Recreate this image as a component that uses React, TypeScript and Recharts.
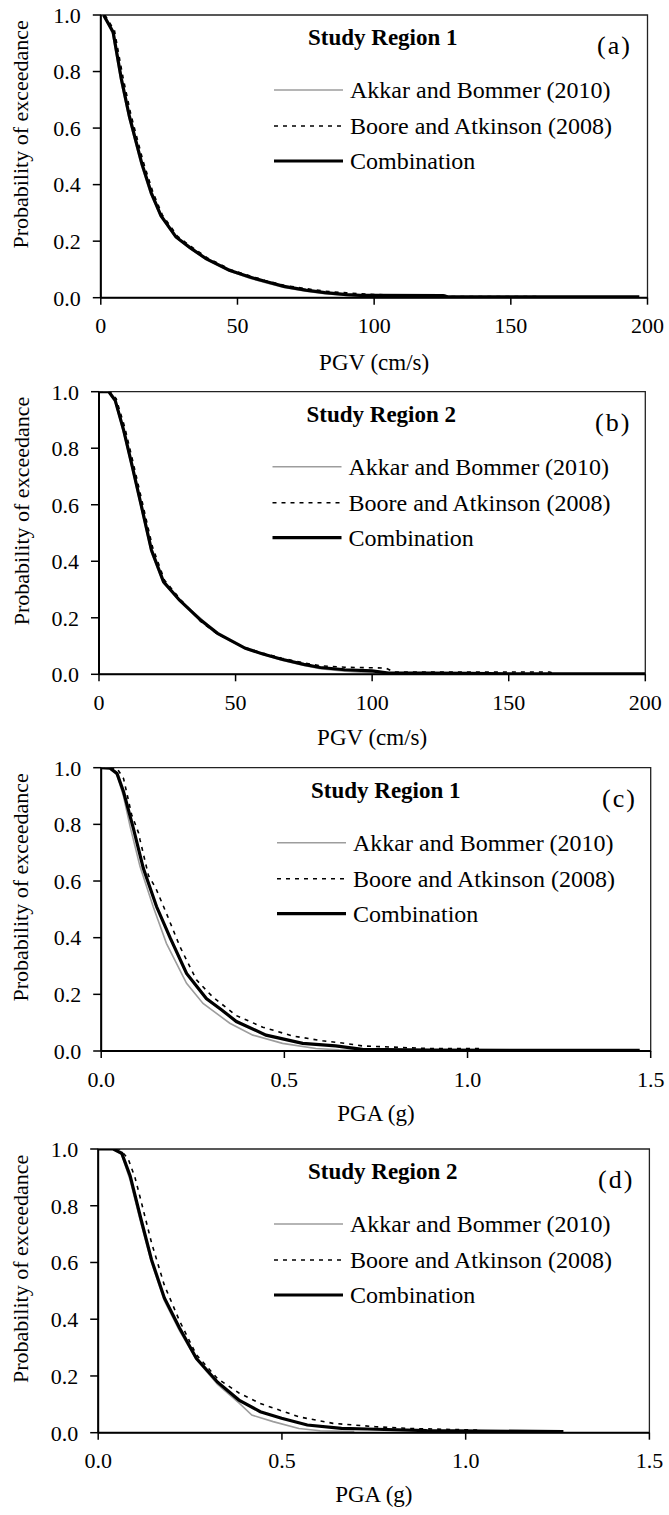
import React from "react";
import { LineChart, Line, XAxis, YAxis, ReferenceArea, Legend } from "recharts";

// (a) PGV, study region 1
const pgvR1AkkarX = [1, 4.3, 7.3, 10.3, 14.8, 18.3, 22, 27.5, 32.5, 38.5, 47, 54.5, 60, 67, 75, 82, 90, 100];
const pgvR1AkkarP = [1.0, 0.935, 0.77, 0.635, 0.47, 0.365, 0.286, 0.212, 0.175, 0.135, 0.094, 0.069, 0.054, 0.036, 0.023, 0.014, 0.008, 0.004];
const pgvR1BooreX = [1.5, 5, 8, 11, 15.5, 19, 22.5, 28, 33, 39, 47.5, 55, 60, 67, 75, 82, 90, 100, 110, 125, 128, 150, 175, 197];
const pgvR1BooreP = [1.0, 0.945, 0.785, 0.648, 0.482, 0.375, 0.293, 0.218, 0.181, 0.141, 0.099, 0.076, 0.061, 0.044, 0.032, 0.023, 0.017, 0.011, 0.01, 0.01, 0.004, 0.004, 0.003, 0.003];
const pgvR1CombX = [1, 4.5, 7.5, 10.5, 15, 18.5, 22, 27.5, 32.5, 38.5, 47, 54.5, 60, 67, 75, 82, 90, 95, 100, 125, 127, 150, 197];
const pgvR1CombP = [1.0, 0.94, 0.775, 0.64, 0.475, 0.37, 0.29, 0.215, 0.178, 0.138, 0.097, 0.073, 0.058, 0.04, 0.027, 0.018, 0.011, 0.008, 0.008, 0.007, 0.003, 0.003, 0.003];

// (b) PGV, study region 2
const pgvR2AkkarX = [0, 3.6, 5.9, 9, 12.2, 15.3, 19.2, 23.6, 29.4, 37.2, 43.4, 53.6, 60, 66.9, 75, 81, 90, 100, 110, 200];
const pgvR2AkkarP = [1.0, 1.0, 0.965, 0.855, 0.725, 0.595, 0.43, 0.322, 0.262, 0.198, 0.143, 0.09, 0.07, 0.05, 0.031, 0.02, 0.011, 0.005, 0.002, 0.001];
const pgvR2BooreX = [0, 4, 6.3, 9.4, 12.6, 15.7, 19.6, 24, 29.8, 37.2, 43.4, 53.6, 60, 66.9, 75, 81, 90, 105, 108, 165, 167, 200];
const pgvR2BooreP = [1.0, 1.0, 0.975, 0.875, 0.745, 0.615, 0.45, 0.333, 0.265, 0.187, 0.142, 0.094, 0.075, 0.057, 0.04, 0.03, 0.025, 0.022, 0.008, 0.008, 0.002, 0.002];
const pgvR2CombX = [0, 3.6, 5.9, 9, 12.2, 15.3, 19.2, 23.6, 29.4, 37.2, 43.4, 53.6, 60, 66.9, 75, 81, 90, 100, 106, 120, 135, 150, 200];
const pgvR2CombP = [1.0, 1.0, 0.97, 0.865, 0.735, 0.605, 0.44, 0.328, 0.263, 0.192, 0.145, 0.092, 0.072, 0.053, 0.035, 0.024, 0.016, 0.012, 0.004, 0.004, 0.003, 0.002, 0.002];

// (c) PGA, study region 1
const pgaR1AkkarX = [0, 0.024, 0.043, 0.061, 0.079, 0.106, 0.142, 0.178, 0.233, 0.278, 0.351, 0.414, 0.495, 0.586, 0.65, 0.75];
const pgaR1AkkarP = [1.0, 0.998, 0.975, 0.898, 0.792, 0.651, 0.509, 0.38, 0.239, 0.168, 0.098, 0.056, 0.027, 0.009, 0.004, 0.002];
const pgaR1BooreX = [0, 0.043, 0.061, 0.083, 0.102, 0.106, 0.129, 0.149, 0.178, 0.215, 0.26, 0.305, 0.369, 0.441, 0.523, 0.604, 0.666, 0.713, 0.887, 1.04];
const pgaR1BooreP = [1.0, 0.998, 0.962, 0.835, 0.77, 0.745, 0.62, 0.575, 0.486, 0.368, 0.251, 0.19, 0.125, 0.084, 0.053, 0.036, 0.027, 0.018, 0.009, 0.009];
const pgaR1CombX = [0, 0.024, 0.043, 0.061, 0.088, 0.115, 0.151, 0.188, 0.233, 0.287, 0.329, 0.369, 0.45, 0.55, 0.64, 0.713, 0.9, 1.2, 1.47];
const pgaR1CombP = [1.0, 0.998, 0.98, 0.915, 0.785, 0.645, 0.51, 0.4, 0.274, 0.185, 0.145, 0.104, 0.056, 0.027, 0.018, 0.006, 0.003, 0.002, 0.002];

// (d) PGA, study region 2
const pgaR2AkkarX = [0, 0.041, 0.064, 0.087, 0.116, 0.145, 0.18, 0.221, 0.267, 0.325, 0.383, 0.418, 0.476, 0.546, 0.604, 0.697];
const pgaR2AkkarP = [1.0, 1.0, 0.98, 0.89, 0.74, 0.6, 0.465, 0.36, 0.258, 0.17, 0.105, 0.062, 0.039, 0.015, 0.007, 0.004];
const pgaR2BooreX = [0, 0.058, 0.081, 0.1, 0.116, 0.145, 0.18, 0.221, 0.267, 0.325, 0.383, 0.441, 0.546, 0.639, 0.755, 0.848, 1.034];
const pgaR2BooreP = [1.0, 1.0, 0.967, 0.9, 0.82, 0.67, 0.52, 0.395, 0.275, 0.19, 0.14, 0.103, 0.056, 0.033, 0.021, 0.015, 0.009];
const pgaR2CombX = [0, 0.041, 0.064, 0.087, 0.116, 0.145, 0.18, 0.221, 0.267, 0.325, 0.383, 0.441, 0.499, 0.569, 0.662, 0.732, 0.894, 1.266];
const pgaR2CombP = [1.0, 1.0, 0.985, 0.905, 0.755, 0.61, 0.475, 0.37, 0.262, 0.178, 0.115, 0.074, 0.051, 0.027, 0.015, 0.013, 0.007, 0.004];

const probTicks = [0, 0.2, 0.4, 0.6, 0.8, 1.0];
const pgvTicks = [0, 50, 100, 150, 200];
const pgaTicks = [0, 0.5, 1.0, 1.5];

const FONT = '"Liberation Serif", "Times New Roman", serif';

const SERIES = [
  { key: "akkar", name: "Akkar and Bommer (2010)", stroke: "#9d9d9d", width: 1.6, dash: undefined as string | undefined },
  { key: "boore", name: "Boore and Atkinson (2008)", stroke: "#000", width: 1.6, dash: "4 5" },
  { key: "comb", name: "Combination", stroke: "#000", width: 3.2, dash: undefined as string | undefined },
];

const zip = (xs: number[], ps: number[]) => xs.map((x, i) => ({ x, p: ps[i] }));

const PANELS = [
  {
    letter: "a", region: 1, xLabel: "PGV (cm/s)", xMax: 200, xTicks: pgvTicks, fmt: (v: number) => String(v),
    akkar: zip(pgvR1AkkarX, pgvR1AkkarP), boore: zip(pgvR1BooreX, pgvR1BooreP), comb: zip(pgvR1CombX, pgvR1CombP),
    top: 0, h: 377, plotTop: 15, plotH: 282.7, left: 100.8, right: 647.5, labelBase: 72, dx: 0, letterX: 597,
  },
  {
    letter: "b", region: 2, xLabel: "PGV (cm/s)", xMax: 200, xTicks: pgvTicks, fmt: (v: number) => String(v),
    akkar: zip(pgvR2AkkarX, pgvR2AkkarP), boore: zip(pgvR2BooreX, pgvR2BooreP), comb: zip(pgvR2CombX, pgvR2CombP),
    top: 377, h: 376, plotTop: 14.7, plotH: 282.6, left: 99, right: 645.3, labelBase: 71, dx: -1.5, letterX: 595,
  },
  {
    letter: "c", region: 1, xLabel: "PGA (g)", xMax: 1.5, xTicks: pgaTicks, fmt: (v: number) => v.toFixed(1),
    akkar: zip(pgaR1AkkarX, pgaR1AkkarP), boore: zip(pgaR1BooreX, pgaR1BooreP), comb: zip(pgaR1CombX, pgaR1CombP),
    top: 753, h: 377, plotTop: 14.7, plotH: 283.3, left: 101.2, right: 650.7, labelBase: 70, dx: 3, letterX: 602,
  },
  {
    letter: "d", region: 2, xLabel: "PGA (g)", xMax: 1.5, xTicks: pgaTicks, fmt: (v: number) => v.toFixed(1),
    akkar: zip(pgaR2AkkarX, pgaR2AkkarP), boore: zip(pgaR2BooreX, pgaR2BooreP), comb: zip(pgaR2CombX, pgaR2CombP),
    top: 1130, h: 385, plotTop: 19, plotH: 283.7, left: 98.2, right: 649.4, labelBase: 69, dx: 0, letterX: 598,
  },
];

type Panel = (typeof PANELS)[number];

const ROWS = [75, 111, 146];

function PanelLegend({ cfg }: { cfg: Panel }) {
  const t = cfg.plotTop;
  const dx = cfg.dx;
  return (
    <svg width={669} height={cfg.h} style={{ display: "block", fontFamily: FONT }}>
      <text x={308 + dx} y={t + 30} fontSize={23} fontWeight="bold" fill="#000">
        Study Region {cfg.region}
      </text>
      <text x={cfg.letterX} y={t + 39} fontSize={26} letterSpacing={2} fill="#000">
        ({cfg.letter})
      </text>
      {SERIES.map((s, i) => (
        <g key={s.key}>
          <line
            x1={274 + dx}
            x2={343 + dx}
            y1={t + ROWS[i]}
            y2={t + ROWS[i]}
            stroke={s.stroke}
            strokeWidth={s.width}
            strokeDasharray={s.dash}
          />
          <text x={350 + dx} y={t + ROWS[i]} dy="0.35em" fontSize={24} fill="#000">
            {s.name}
          </text>
        </g>
      ))}
    </svg>
  );
}

function ExceedancePanel({ cfg }: { cfg: Panel }) {
  const xAxisH = 40;
  const bottom = cfg.h - cfg.plotTop - cfg.plotH - xAxisH;
  const tickStyle = { fontSize: 22, fill: "#000", fontFamily: FONT };

  return (
    <div style={{ position: "absolute", left: 0, top: cfg.top, width: 669, height: cfg.h, overflow: "hidden" }}>
      <LineChart
        width={669}
        height={cfg.h}
        margin={{ top: cfg.plotTop, right: 669 - cfg.right, left: 0, bottom }}
      >
        <XAxis
          type="number"
          dataKey="x"
          domain={[0, cfg.xMax]}
          ticks={cfg.xTicks}
          interval={0}
          allowDataOverflow
          tickFormatter={cfg.fmt}
          tick={tickStyle}
          tickSize={7}
          tickMargin={13}
          height={xAxisH}
          axisLine={{ stroke: "#000", strokeWidth: 2 }}
          tickLine={{ stroke: "#000", strokeWidth: 1.5 }}
          label={{
            content: (props: any) => {
              const vb = props.viewBox;
              return (
                <text
                  x={vb.x + vb.width / 2}
                  y={vb.y + cfg.labelBase}
                  textAnchor="middle"
                  fontSize={23}
                  fontFamily={FONT}
                  fill="#000"
                >
                  {cfg.xLabel}
                </text>
              );
            },
          }}
        />
        <YAxis
          type="number"
          domain={[0, 1]}
          ticks={probTicks}
          interval={0}
          allowDataOverflow
          tickFormatter={(v: number) => v.toFixed(1)}
          tick={tickStyle}
          tickSize={8}
          tickMargin={12}
          width={cfg.left}
          axisLine={{ stroke: "#000", strokeWidth: 2 }}
          tickLine={{ stroke: "#000", strokeWidth: 1.5 }}
          label={{
            content: () => {
              const cx = 28.5;
              const cy = cfg.plotTop + cfg.plotH / 2 - 22;
              return (
                <text
                  x={cx}
                  y={cy}
                  transform={`rotate(-90, ${cx}, ${cy})`}
                  textAnchor="middle"
                  fontSize={22}
                  fontFamily={FONT}
                  fill="#000"
                >
                  Probability of exceedance
                </text>
              );
            },
          }}
        />
        <ReferenceArea x1={0} x2={cfg.xMax} y1={0} y2={1} fill="none" fillOpacity={0} stroke="#222" strokeWidth={1.3} />
        <Line
          data={cfg.akkar}
          dataKey="p"
          name={SERIES[0].name}
          type="linear"
          stroke={SERIES[0].stroke}
          strokeWidth={SERIES[0].width}
          dot={false}
          isAnimationActive={false}
        />
        <Line
          data={cfg.boore}
          dataKey="p"
          name={SERIES[1].name}
          type="linear"
          stroke={SERIES[1].stroke}
          strokeWidth={SERIES[1].width}
          strokeDasharray={SERIES[1].dash}
          dot={false}
          isAnimationActive={false}
        />
        <Line
          data={cfg.comb}
          dataKey="p"
          name={SERIES[2].name}
          type="linear"
          stroke={SERIES[2].stroke}
          strokeWidth={SERIES[2].width}
          dot={false}
          isAnimationActive={false}
        />
        <Legend
          layout="horizontal"
          verticalAlign="middle"
          align="center"
          content={() => <PanelLegend cfg={cfg} />}
          wrapperStyle={{ left: 0, top: 0, width: 669, height: cfg.h, pointerEvents: "none" }}
        />
      </LineChart>
    </div>
  );
}

export default function App() {
  return (
    <div style={{ position: "absolute", left: 0, top: 0, width: 669, height: 1515, background: "#fff" }}>
      {PANELS.map((cfg) => (
        <ExceedancePanel key={cfg.letter} cfg={cfg} />
      ))}
    </div>
  );
}
